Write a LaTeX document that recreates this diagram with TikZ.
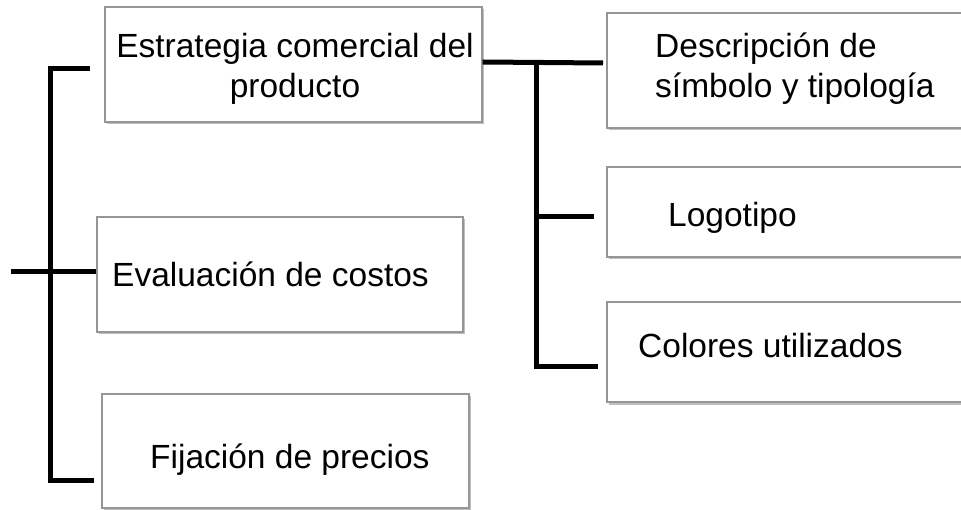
\documentclass[tikz,border=0pt]{standalone}
\usepackage{fontspec}
\setmainfont{Liberation Sans}
\usetikzlibrary{shadows}
\definecolor{boxline}{RGB}{150,150,150}
\tikzset{
  box/.style={draw=boxline, line width=1.2pt, fill=white, inner sep=0pt,
    drop shadow={shadow xshift=1.5pt, shadow yshift=-2.5pt, fill=black, opacity=0.25}},
  lbl/.style={anchor=base west, inner sep=0pt, font=\fontsize{33.5}{40}\selectfont},
  lblc/.style={anchor=base, inner sep=0pt, font=\fontsize{33.5}{40}\selectfont},
  conn/.style={line width=5pt, black, line join=miter},
}
\begin{document}
\begin{tikzpicture}[x=1pt, y=-1pt]
\useasboundingbox (0,0) rectangle (961,510);
\begin{scope}
\clip (0,0) rectangle (961,512);
% boxes
\node[box, minimum width=377pt, minimum height=115pt] (estr) at (293.5,64.5) {};
\node[box, minimum width=366pt, minimum height=115pt] (eval) at (280,274.5) {};
\node[box, minimum width=367pt, minimum height=114pt] (fij) at (285.5,451) {};
\node[box, minimum width=370pt, minimum height=115pt] (desc) at (792,70.5) {};
\node[box, minimum width=370pt, minimum height=90pt] (logo) at (792,212) {};
\node[box, minimum width=370pt, minimum height=100pt] (col) at (792,352) {};
\end{scope}
% texts
\node[lblc] (estr1) at (295,58) {Estrategia comercial del};
\node[lblc] (estr2) at (295,98) {producto};
\node[lbl] (eval1) at (112,287) {Evaluación de costos};
\node[lbl] (fij1) at (150,468) {Fijación de precios};
\node[lbl] (desc1) at (655,58) {Descripción de};
\node[lbl] (desc2) at (655,98) {símbolo y tipología};
\node[lbl] (logo1) at (668,227) {Logotipo};
\node[lbl] (col1) at (638,358) {Colores utilizados};
% left bracket
\coordinate (lt) at (90,69);
\coordinate (lc) at (50,69);
\coordinate (lb) at (50,480);
\coordinate (lbe) at (94,480);
\coordinate (lm) at (11,272);
\draw[conn] (lt) -- (lc) -- (lb) -- (lbe);
\draw[conn] (lm) -- (lm -| eval.west);
% right bracket
\coordinate (rs) at (482,62);
\coordinate (re) at (603,63);
\coordinate (rv) at (536,62);
\coordinate (rb) at (536,367);
\coordinate (rbe) at (598,367);
\coordinate (rm) at (536,217);
\coordinate (rme) at (594,217);
\draw[conn] (rs -| estr.east) -- (re);
\draw[conn] (rv) -- (rb) -- (rbe);
\draw[conn] (rm) -- (rme);
\end{tikzpicture}
\end{document}
